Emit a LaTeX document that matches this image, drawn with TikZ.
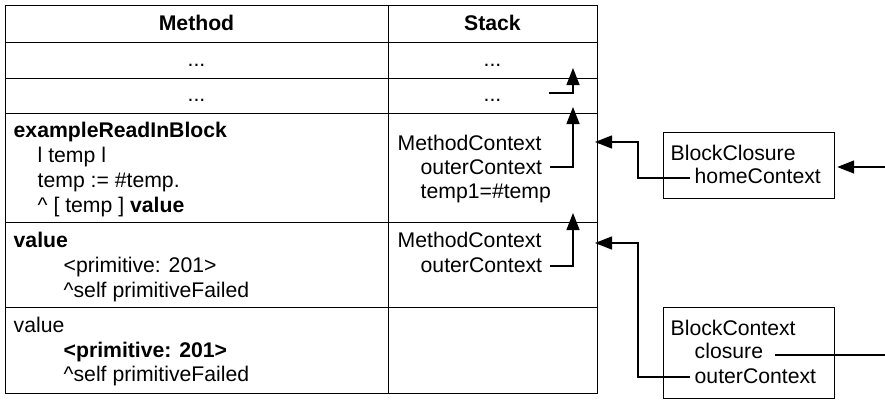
\documentclass[tikz,border=0pt]{standalone}
\usepackage{fontspec}
\setmainfont{Liberation Sans}
\usetikzlibrary{arrows.meta,calc}
\begin{document}
\begin{tikzpicture}[x=1pt,y=-1pt,
  line width=1.4pt,
  txt/.style={inner sep=0pt, anchor=base west, font=\fontsize{21.2}{25}\selectfont},
  ctxt/.style={inner sep=0pt, anchor=base, font=\fontsize{21.2}{25}\selectfont},
  cell/.style={draw, rectangle, inner sep=0pt},
  obj/.style={draw, rectangle, inner sep=0pt, line width=1.2pt},
  ptr/.style={line width=1.4pt, -{Triangle[length=17pt,width=13pt]}},
  ln/.style={line width=1.4pt}]
\useasboundingbox (0,0) rectangle (885,399);
% table cells
\node[cell, minimum width=383pt, minimum height=37pt, anchor=north west] (mh) at (5,5) {};
\node[cell, minimum width=209pt, minimum height=37pt, anchor=north west] (sh) at (388,5) {};
\node[cell, minimum width=383pt, minimum height=36pt, anchor=north west] (m2) at (5,42) {};
\node[cell, minimum width=209pt, minimum height=36pt, anchor=north west] (s2) at (388,42) {};
\node[cell, minimum width=383pt, minimum height=35pt, anchor=north west] (m3) at (5,78) {};
\node[cell, minimum width=209pt, minimum height=35pt, anchor=north west] (s3) at (388,78) {};
\node[cell, minimum width=383pt, minimum height=109pt, anchor=north west] (m4) at (5,113) {};
\node[cell, minimum width=209pt, minimum height=109pt, anchor=north west] (s4) at (388,113) {};
\node[cell, minimum width=383pt, minimum height=85pt, anchor=north west] (m5) at (5,222) {};
\node[cell, minimum width=209pt, minimum height=85pt, anchor=north west] (s5) at (388,222) {};
\node[cell, minimum width=383pt, minimum height=86pt, anchor=north west] (m6) at (5,307) {};
\node[cell, minimum width=209pt, minimum height=86pt, anchor=north west] (s6) at (388,307) {};
% headers
\node[ctxt] (th1) at (196.5,30) {\bfseries Method};
\node[ctxt] (th2) at (492.5,30) {\bfseries Stack};
\node[ctxt] (d1) at (196.5,66) {...};
\node[ctxt] (d2) at (492.5,66) {...};
\node[ctxt] (d3) at (196.5,101) {...};
\node[ctxt] (d4) at (492.5,101) {...};
% row 4 method
\node[txt] (r4a) at (13,137) {\bfseries exampleReadInBlock};
\node[txt] (r4b) at (37,162) {l temp l};
\node[txt] (r4c) at (37,187) {temp := \#temp.};
\node[txt] (r4d) at (37,212) {\^{} [ temp ] \textbf{value}};
% row 5 method
\node[txt] (r5a) at (13,247) {\bfseries value};
\node[txt] (r5b) at (63,272) {<primitive: 201>};
\node[txt] (r5c) at (63,297) {\^{}self primitiveFailed};
% row 6 method
\node[txt] (r6a) at (13,332) {value};
\node[txt] (r6b) at (63,357) {\bfseries <primitive: 201>};
\node[txt] (r6c) at (63,381) {\^{}self primitiveFailed};
% stack row 4
\node[txt] (s4a) at (397,150) {MethodContext};
\node[txt] (s4b) at (420,174) {outerContext};
\node[txt] (s4c) at (420,198) {temp1=\#temp};
% stack row 5
\node[txt] (s5a) at (397,247) {MethodContext};
\node[txt] (s5b) at (420,272) {outerContext};
% objects
\node[obj, minimum width=171pt, minimum height=66pt, anchor=north west] (bc) at (663,132) {};
\node[txt] (bca) at (670,160) {BlockClosure};
\node[txt] (bcb) at (694,183) {homeContext};
\node[obj, minimum width=171pt, minimum height=91pt, anchor=north west] (bx) at (663,307) {};
\node[txt] (bxa) at (670,335) {BlockContext};
\node[txt] (bxb) at (694,358) {closure};
\node[txt] (bxc) at (694,383) {outerContext};
% coordinates
\coordinate (c3s) at (549,93);
\coordinate (c3t) at (573,68);
\coordinate (c4s) at (550,167);
\coordinate (c4t) at (573,107);
\coordinate (c5s) at (550,266);
\coordinate (c5t) at (573,213);
\coordinate (hs) at (690,178);
\coordinate (ht) at (595,142);
\coordinate (os) at (690,377);
\coordinate (ot) at (595,243);
\coordinate (in) at (885,167);
\coordinate (cs) at (775,355);
\coordinate (ce) at (885,355);
% connectors
\draw[ptr] (c3s) -| (c3t);
\draw[ptr] (c4s) -| (c4t);
\draw[ptr] (c5s) -| (c5t);
\draw[ptr] (hs) -- (638,178) |- (ht);
\draw[ptr] (os) -- (638,377) |- (ot);
\draw[ptr] (in) -- ($(bc.east |- in)+(2,0)$);
\draw[ln] (cs) -- (ce);
\end{tikzpicture}
\end{document}
